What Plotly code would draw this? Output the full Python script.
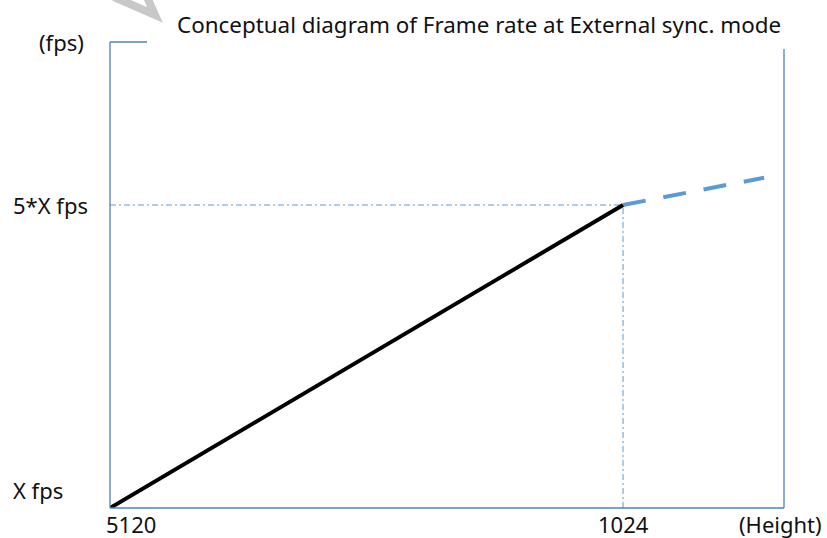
import plotly.graph_objects as go

# Data (conceptual units)
line_x = [0, 4]          # 5120 -> 1024 (Height)
line_y = [0, 4]          # X fps -> 5*X fps
dash_x = [4, 5.1]
dash_y = [4, 4.36]
x_tick_vals = [0, 4]
x_tick_text = ["5120", "1024"]
y_tick_vals = [0, 4]
y_tick_text = ["X fps", "5*X fps"]
title_text = "Conceptual diagram of Frame rate at External sync. mode"

FONT = "Noto Sans"
BLUE = "#5b9bd5"
AX = "#4f7fbf"

fig = go.Figure()
# guide lines
fig.add_trace(go.Scatter(x=[x_tick_vals[0], line_x[1]], y=[line_y[1], line_y[1]], mode="lines",
                         line=dict(color=BLUE, width=1, dash="6px,3px,2px,3px"), hoverinfo="skip"))
fig.add_trace(go.Scatter(x=[line_x[1], line_x[1]], y=[y_tick_vals[0], line_y[1]], mode="lines",
                         line=dict(color=BLUE, width=1, dash="6px,3px,2px,3px"), hoverinfo="skip"))
fig.add_trace(go.Scatter(x=dash_x, y=dash_y, mode="lines",
                         line=dict(color=BLUE, width=4, dash="23px,18px"), hoverinfo="skip"))
fig.add_trace(go.Scatter(x=line_x, y=line_y, mode="lines",
                         line=dict(color="black", width=4), hoverinfo="skip"))

def px(x):
    return (x - 110) / 674

def py(y):
    return (508 - y) / 466

ann = []
# x tick labels
ann.append(dict(x=x_tick_vals[0], y=0, xref="x", yref="paper", text=x_tick_text[0], showarrow=False,
                xanchor="left", yanchor="middle", xshift=-5, yshift=-16, borderpad=0))
ann.append(dict(x=x_tick_vals[1], y=0, xref="x", yref="paper", text=x_tick_text[1], showarrow=False,
                xanchor="center", yanchor="middle", yshift=-16, borderpad=0))
# y tick labels
ann.append(dict(x=px(11), y=y_tick_vals[0], xref="paper", yref="y", text=y_tick_text[0], showarrow=False,
                xanchor="left", yanchor="middle", yshift=18))
ann.append(dict(x=px(11), y=y_tick_vals[1], xref="paper", yref="y", text=y_tick_text[1], showarrow=False,
                xanchor="left", yanchor="middle"))
ann.append(dict(x=px(37), y=py(42), xref="paper", yref="paper", text="(fps)",
                showarrow=False, xanchor="left", yanchor="middle"))
ann.append(dict(x=px(823), y=0, xref="paper", yref="paper", text="(Height)",
                showarrow=False, xanchor="right", yanchor="middle", yshift=-16, borderpad=0))
ann.append(dict(x=px(479), y=py(24), xref="paper", yref="paper", text=title_text,
                showarrow=False, xanchor="center", yanchor="middle", font=dict(size=22.4)))

shapes = [
    dict(type="line", xref="paper", yref="paper", x0=0, y0=0, x1=0, y1=1, line=dict(color=AX, width=1.3)),
    dict(type="line", xref="paper", yref="paper", x0=0, y0=0, x1=1, y1=0, line=dict(color=AX, width=1.3)),
    dict(type="line", xref="paper", yref="paper", x0=0, y0=1, x1=px(147), y1=1, line=dict(color=AX, width=1.3)),
    dict(type="line", xref="paper", yref="paper", x0=1, y0=0, x1=1, y1=py(49), line=dict(color=AX, width=1.3)),
    dict(type="path", xref="paper", yref="paper",
         path=f"M {px(114)},{py(-3)} L {px(155)},{py(15)} L {px(147)},{py(-3)}",
         line=dict(color="#c8c8c8", width=8)),
]

fig.update_layout(
    width=827, height=538,
    margin=dict(l=110, r=43, t=42, b=30),
    paper_bgcolor="white", plot_bgcolor="white",
    showlegend=False,
    font=dict(family=FONT, size=22, color="#111111"),
    xaxis=dict(range=[0, 5.255], showgrid=False, zeroline=False, showticklabels=False, showline=False, fixedrange=True),
    yaxis=dict(range=[0, 6.152], showgrid=False, zeroline=False, showticklabels=False, showline=False, fixedrange=True),
    annotations=ann,
    shapes=shapes,
)
fig.write_html("out.html", config={"displayModeBar": False},
               post_script="document.body.style.margin='0';")
